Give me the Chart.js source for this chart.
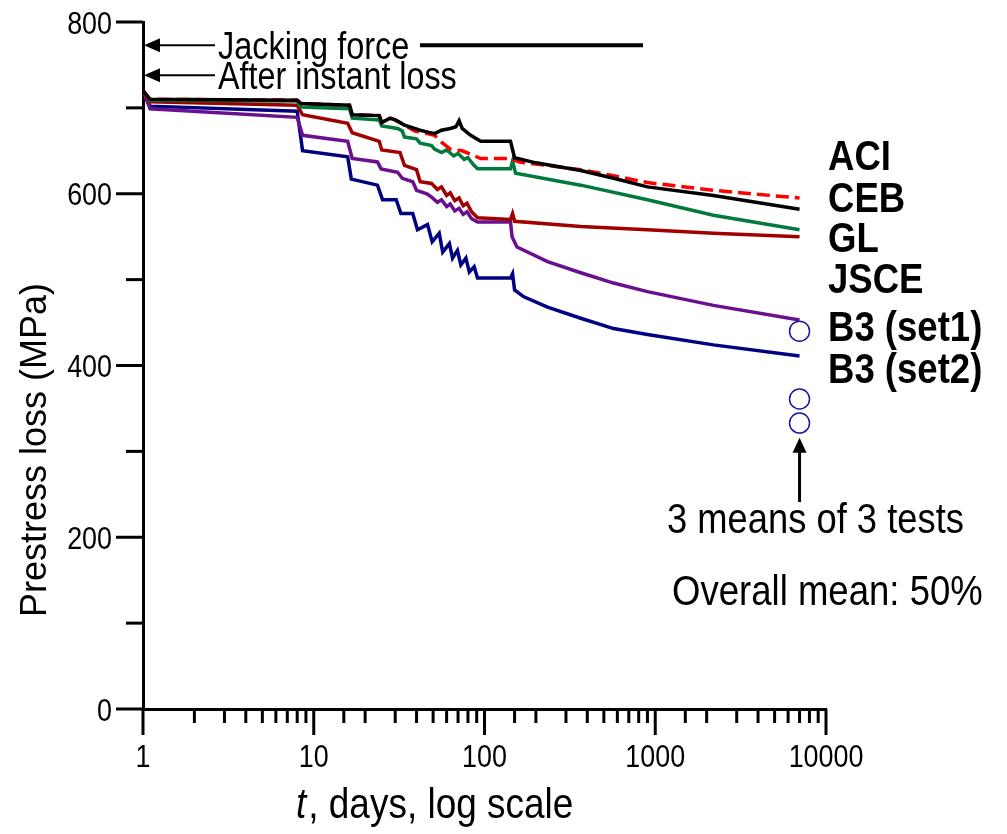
<!DOCTYPE html>
<html lang="en">
<head>
<meta charset="UTF-8">
<title>Prestress loss vs time</title>
<style>
  body { margin: 0; background: #fff; }
  #wrap { width: 1007px; height: 834px; }
</style>
</head>
<body>
<div id="wrap"><canvas id="chart" width="1007" height="834"></canvas></div>
<script src="https://cdn.jsdelivr.net/npm/chart.js"></script>
<script>
// t in days (log axis), prestress in MPa
const aciT = [1, 1.1, 8.0, 8.4, 16.2, 16.8, 24.2, 25.0, 28, 30, 34, 39, 42, 46, 51, 56, 63, 68, 71, 74, 83, 95, 142, 150, 200, 366, 570, 900, 2190, 7000];
const aciV = [720, 710, 709, 705, 703, 692, 691, 683, 688, 686, 680, 676, 674, 672, 670, 674, 676, 678, 685, 676, 668, 661, 661, 642, 636, 627, 618, 608, 598, 582];

const cebT = [1, 1.1, 8.0, 8.4, 16.2, 16.8, 24.2, 25.0, 28, 30, 34, 39, 42, 51, 56, 63, 74, 83, 95, 142, 160, 366, 570, 900, 2190, 7000];
const cebV = [720, 710, 709, 705, 703, 692, 691, 683, 688, 686, 680, 673, 672, 668, 660, 652, 650, 646, 641, 641, 637, 628, 621, 613, 604, 595];

const glT = [1, 1.1, 8.0, 8.4, 16.2, 16.8, 24.2, 25.0, 31, 33, 34, 40, 42, 49, 51, 56, 60, 66, 70, 76, 80, 86, 91, 142, 146, 152, 366, 900, 2190, 7000];
const glV = [720, 709, 708, 701, 699, 688, 686, 679, 676, 673, 666, 664, 659, 656, 652, 648, 651, 644, 647, 640, 642, 634, 629, 629, 638, 624, 610, 593, 575, 558];

const jsceT = [1, 1.1, 8.0, 8.6, 15.8, 16.8, 24.2, 25.0, 32, 34, 40, 42, 49, 53, 56, 60, 63, 67, 71, 75, 79, 84, 91, 142, 146, 150, 366, 900, 2190, 7000];
const jsceV = [720, 707, 703, 692, 682, 671, 661, 651, 648, 633, 628, 614, 612, 605, 608, 598, 601, 592, 595, 586, 589, 579, 572, 570, 577, 568, 562, 558, 554, 550];

const b3aT = [1, 1.1, 8.0, 8.6, 15.8, 16.8, 23.6, 24.8, 31, 33, 38, 40, 46, 49, 53, 56, 60, 63, 67, 71, 75, 79, 84, 91, 142, 145, 155, 234, 366, 570, 900, 2190, 7000];
const b3aV = [720, 699, 689, 668, 661, 641, 637, 629, 625, 618, 614, 604, 600, 596, 590, 593, 585, 588, 580, 583, 576, 579, 571, 567, 567, 550, 538, 521, 508, 496, 486, 470, 453];

const b3bT = [1, 1.1, 8.0, 8.6, 15.8, 16.6, 23.6, 25.3, 30.4, 32.4, 38, 40.5, 46.4, 49.4, 54.3, 56.9, 62.3, 65, 69.4, 72.7, 77.8, 81.5, 87, 91, 142, 146, 150, 170, 234, 366, 570, 900, 2190, 7000];
const b3bV = [720, 702, 696, 650, 643, 617, 610, 593, 593, 577, 577, 558, 564, 544, 554, 532, 542, 525, 534, 517, 525, 509, 515, 502, 502, 507, 488, 480, 468, 455, 443, 436, 424, 411];

// measured means of tests
const testT = [7000, 7000, 7000];
const testV = [440, 361, 333];

const seriesNames = ['ACI', 'CEB', 'GL', 'JSCE', 'B3 (set1)', 'B3 (set2)'];
const xTickLabels = ['1', '10', '100', '1000', '10000'];
const yTickLabels = ['0', '200', '400', '600', '800'];
const jackingForce = 773;
const afterInstant = 738;

const SANS = '"Liberation Sans", Arial, sans-serif';

function pts(ts, vs) {
  return ts.map((t, i) => ({ x: t, y: vs[i] }));
}

function lineSet(label, ts, vs, color, dash) {
  return {
    label: label,
    data: pts(ts, vs),
    borderColor: color,
    borderWidth: 3.5,
    borderDash: dash || [],
    pointRadius: 0,
    tension: 0,
    fill: false
  };
}

// the original lettering is a condensed sans, squeeze it horizontally
function narrow(ctx, s, x, y, font, sq, align) {
  ctx.save();
  ctx.font = font;
  ctx.translate(x, y);
  ctx.scale(sq, 1);
  ctx.textAlign = align || 'left';
  ctx.textBaseline = 'alphabetic';
  ctx.fillText(s, 0, 0);
  const w = ctx.measureText(s).width * sq;
  ctx.restore();
  return w;
}

const extras = {
  id: 'extras',
  afterDraw(chart) {
    const ctx = chart.ctx;
    const a = chart.chartArea;
    const x = chart.scales.x;
    const y = chart.scales.y;
    ctx.save();
    ctx.strokeStyle = '#000';
    ctx.fillStyle = '#000';
    ctx.lineWidth = 3;

    // tick marks and labels, long marks for labelled ticks
    x.ticks.forEach(t => {
      const px = x.getPixelForValue(t.value);
      const lbl = xTickLabels.find(s => Math.abs(Number(s) - t.value) < 1e-6);
      ctx.beginPath();
      ctx.moveTo(px, a.bottom);
      ctx.lineTo(px, a.bottom + (lbl ? 26 : 14));
      ctx.stroke();
      if (lbl) narrow(ctx, lbl, px, 767, '32px ' + SANS, 0.84, 'center');
    });
    y.ticks.forEach(t => {
      const py = y.getPixelForValue(t.value);
      const lbl = yTickLabels.includes(String(t.value)) ? String(t.value) : null;
      ctx.beginPath();
      ctx.moveTo(a.left, py);
      ctx.lineTo(a.left - (lbl ? 27 : 17), py);
      ctx.stroke();
      if (lbl) narrow(ctx, lbl, a.left - 31, py + 11.5, '32px ' + SANS, 0.84, 'right');
    });

    // arrows pointing at the axis
    function arrowLeft(val) {
      const py = y.getPixelForValue(val);
      ctx.lineWidth = 2;
      ctx.beginPath();
      ctx.moveTo(a.left + 12, py);
      ctx.lineTo(a.left + 72, py);
      ctx.stroke();
      ctx.beginPath();
      ctx.moveTo(a.left + 1, py);
      ctx.lineTo(a.left + 17, py - 7);
      ctx.lineTo(a.left + 17, py + 7);
      ctx.closePath();
      ctx.fill();
      return py;
    }
    let py = arrowLeft(jackingForce);
    narrow(ctx, 'Jacking force', a.left + 75, py + 14, '38px ' + SANS, 0.855);
    ctx.lineWidth = 4;
    ctx.beginPath();
    ctx.moveTo(420, py);
    ctx.lineTo(643, py);
    ctx.stroke();
    py = arrowLeft(afterInstant);
    narrow(ctx, 'After instant loss', a.left + 75, py + 14, '38px ' + SANS, 0.85);

    // series names at right
    const baselines = [170, 212, 252, 293, 341, 383];
    seriesNames.forEach((n, i) => narrow(ctx, n, a.right + 2, baselines[i], 'bold 42px ' + SANS, 0.87));

    // arrow up to the test points
    const ax = x.getPixelForValue(testT[0]);
    const tip = y.getPixelForValue(316);
    ctx.lineWidth = 3;
    ctx.beginPath();
    ctx.moveTo(ax, tip + 12);
    ctx.lineTo(ax, y.getPixelForValue(241));
    ctx.stroke();
    ctx.beginPath();
    ctx.moveTo(ax, tip);
    ctx.lineTo(ax - 7, tip + 15);
    ctx.lineTo(ax + 7, tip + 15);
    ctx.closePath();
    ctx.fill();

    narrow(ctx, '3 means of 3 tests', 667, 533, '43px ' + SANS, 0.845);
    narrow(ctx, 'Overall mean: 50%', 672, 605, '43px ' + SANS, 0.85);

    // axis titles
    const tw = narrow(ctx, 't', 296, 818, 'italic 42px ' + SANS, 0.88);
    narrow(ctx, ', days, log scale', 296 + tw + 2, 818, '42px ' + SANS, 0.88);

    ctx.translate(46, 617);
    ctx.rotate(-Math.PI / 2);
    ctx.font = '36px ' + SANS;
    ctx.textAlign = 'left';
    ctx.textBaseline = 'alphabetic';
    ctx.fillText('Prestress loss (MPa)', 0, 0);
    ctx.restore();
  }
};

new Chart(document.getElementById('chart'), {
  type: 'line',
  data: {
    datasets: [
      {
        label: 'tests',
        data: pts(testT, testV),
        showLine: false,
        pointRadius: 10,
        pointBorderWidth: 1.5,
        pointBorderColor: '#1a1a99',
        pointBackgroundColor: 'rgba(255,255,255,0)'
      },
      lineSet(seriesNames[0], aciT, aciV, '#000000'),
      lineSet(seriesNames[1], cebT, cebV, '#ff0000', [13, 6]),
      lineSet(seriesNames[2], glT, glV, '#007a3d'),
      lineSet(seriesNames[3], jsceT, jsceV, '#a00000'),
      lineSet(seriesNames[4], b3aT, b3aV, '#6a0f8e'),
      lineSet(seriesNames[5], b3bT, b3bV, '#000080')
    ]
  },
  options: {
    responsive: false,
    animation: false,
    layout: { padding: { left: 0, right: 181, top: 22, bottom: 0 } },
    plugins: { legend: { display: false }, tooltip: { enabled: false } },
    scales: {
      x: {
        type: 'logarithmic',
        min: 1,
        max: 10000,
        afterFit: s => { s.height = 125; s.paddingLeft = 0; s.paddingRight = 0; },
        grid: { drawOnChartArea: false, drawTicks: false },
        border: { color: '#000', width: 3 },
        ticks: { display: false, autoSkip: false }
      },
      y: {
        min: 0,
        max: 800,
        afterFit: s => { s.width = 143; s.paddingTop = 0; s.paddingBottom = 0; },
        grid: { drawOnChartArea: false, drawTicks: false },
        border: { color: '#000', width: 3 },
        ticks: { display: false, stepSize: 100 }
      }
    }
  },
  plugins: [extras]
});
</script>
</body>
</html>
